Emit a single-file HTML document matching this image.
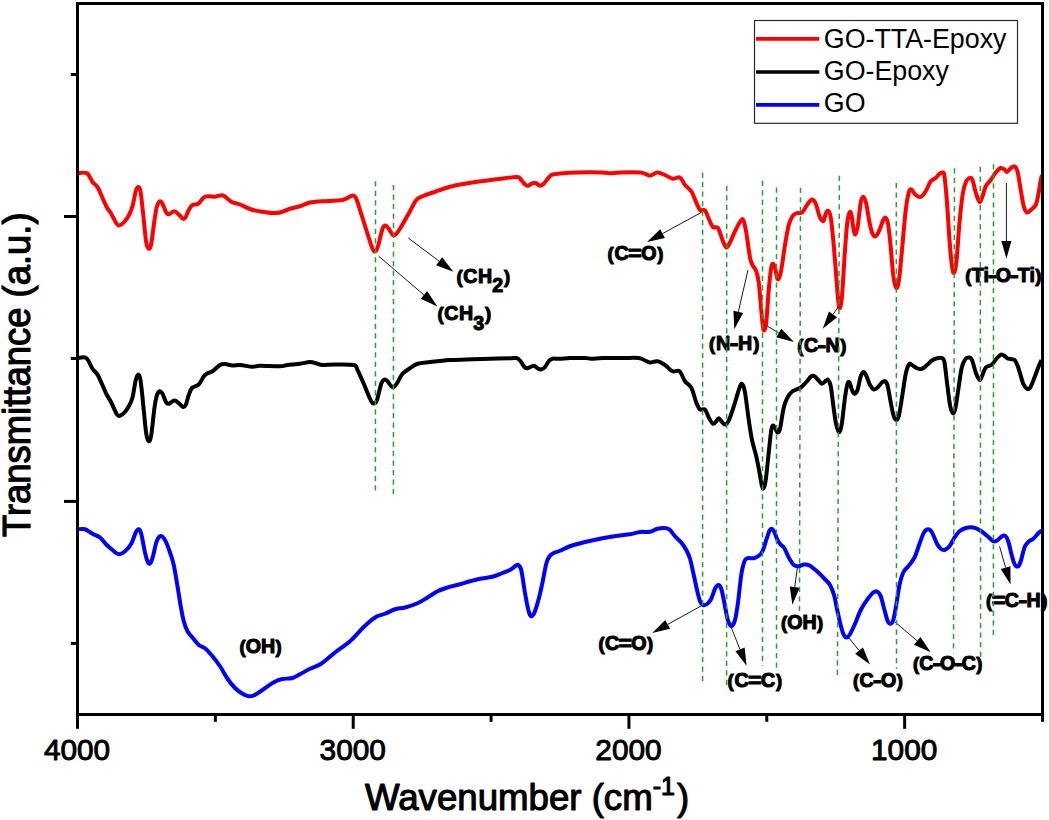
<!DOCTYPE html><html><head><meta charset="utf-8"><title>FTIR</title>
<style>
html,body{margin:0;padding:0;background:#fff;}
body{width:1049px;height:820px;overflow:hidden;}
svg{display:block;}
text{font-family:"Liberation Sans",sans-serif;fill:#000;}
.lab{font-weight:bold;font-size:19.6px;stroke:#000;stroke-width:1.1px;stroke-linejoin:round;}
.lab .sub{font-size:19.6px;}
.tick{font-size:29.2px;stroke:#000;stroke-width:0.95px;stroke-linejoin:round;}
.axis{font-size:36.6px;stroke:#000;stroke-width:1.1px;stroke-linejoin:round;}
.leg{font-size:26.8px;}
</style></head><body>
<svg width="1049" height="820" viewBox="0 0 1049 820">
<rect x="0" y="0" width="1049" height="820" fill="#fff"/>
<path d="M78.00 529.25 C79.17 529.25 82.58 528.50 85.00 529.25 C87.42 530.00 90.00 532.38 92.50 533.75 C95.00 535.12 97.71 535.71 100.00 537.50 C102.29 539.29 104.17 542.42 106.25 544.50 C108.33 546.58 110.42 548.38 112.50 550.00 C114.58 551.62 116.67 554.04 118.75 554.25 C120.83 554.46 122.92 553.00 125.00 551.25 C127.08 549.50 129.46 546.88 131.25 543.75 C133.04 540.62 134.50 534.92 135.75 532.50 C137.00 530.08 137.83 529.04 138.75 529.25 C139.67 529.46 140.21 529.88 141.25 533.75 C142.29 537.62 143.88 547.71 145.00 552.50 C146.12 557.29 147.08 560.75 148.00 562.50 C148.92 564.25 149.67 564.04 150.50 563.00 C151.33 561.96 152.04 559.67 153.00 556.25 C153.96 552.83 155.21 545.75 156.25 542.50 C157.29 539.25 158.21 537.71 159.25 536.75 C160.29 535.79 161.33 535.79 162.50 536.75 C163.67 537.71 165.00 539.88 166.25 542.50 C167.50 545.12 168.75 548.75 170.00 552.50 C171.25 556.25 172.50 559.38 173.75 565.00 C175.00 570.62 176.33 579.38 177.50 586.25 C178.67 593.12 179.71 600.42 180.75 606.25 C181.79 612.08 182.62 617.08 183.75 621.25 C184.88 625.42 186.04 628.54 187.50 631.25 C188.96 633.96 190.62 635.21 192.50 637.50 C194.38 639.79 196.67 643.21 198.75 645.00 C200.83 646.79 202.71 646.38 205.00 648.25 C207.29 650.12 210.00 653.25 212.50 656.25 C215.00 659.25 217.50 662.50 220.00 666.25 C222.50 670.00 225.00 675.12 227.50 678.75 C230.00 682.38 232.50 685.50 235.00 688.00 C237.50 690.50 240.21 692.38 242.50 693.75 C244.79 695.12 246.88 695.96 248.75 696.25 C250.62 696.54 251.46 696.54 253.75 695.50 C256.04 694.46 259.38 692.08 262.50 690.00 C265.62 687.92 269.38 684.79 272.50 683.00 C275.62 681.21 277.92 680.08 281.25 679.25 C284.58 678.42 289.38 678.83 292.50 678.00 C295.62 677.17 297.08 675.79 300.00 674.25 C302.92 672.71 306.46 670.50 310.00 668.75 C313.54 667.00 317.08 666.46 321.25 663.75 C325.42 661.04 330.21 656.25 335.00 652.50 C339.79 648.75 345.21 645.50 350.00 641.25 C354.79 637.00 359.58 630.96 363.75 627.00 C367.92 623.04 371.46 619.71 375.00 617.50 C378.54 615.29 381.67 615.12 385.00 613.75 C388.33 612.38 391.67 610.29 395.00 609.25 C398.33 608.21 401.25 608.50 405.00 607.50 C408.75 606.50 413.75 604.92 417.50 603.25 C421.25 601.58 424.17 599.50 427.50 597.50 C430.83 595.50 434.17 592.92 437.50 591.25 C440.83 589.58 443.75 588.67 447.50 587.50 C451.25 586.33 456.25 585.29 460.00 584.25 C463.75 583.21 466.67 582.17 470.00 581.25 C473.33 580.33 476.25 579.50 480.00 578.75 C483.75 578.00 488.75 577.71 492.50 576.75 C496.25 575.79 499.58 574.12 502.50 573.00 C505.42 571.88 507.92 571.12 510.00 570.00 C512.08 568.88 513.62 567.08 515.00 566.25 C516.38 565.42 517.21 564.38 518.25 565.00 C519.29 565.62 520.21 565.83 521.25 570.00 C522.29 574.17 523.46 583.96 524.50 590.00 C525.54 596.04 526.58 602.08 527.50 606.25 C528.42 610.42 529.17 613.42 530.00 615.00 C530.83 616.58 531.67 616.38 532.50 615.75 C533.33 615.12 533.96 614.08 535.00 611.25 C536.04 608.42 537.50 603.54 538.75 598.75 C540.00 593.96 541.25 588.33 542.50 582.50 C543.75 576.67 545.08 568.12 546.25 563.75 C547.42 559.38 548.25 558.04 549.50 556.25 C550.75 554.46 552.00 553.92 553.75 553.00 C555.50 552.08 557.29 551.88 560.00 550.75 C562.71 549.62 565.83 547.71 570.00 546.25 C574.17 544.79 579.58 543.33 585.00 542.00 C590.42 540.67 597.08 539.29 602.50 538.25 C607.92 537.21 612.92 536.42 617.50 535.75 C622.08 535.08 626.25 534.88 630.00 534.25 C633.75 533.62 636.67 532.42 640.00 532.00 C643.33 531.58 647.08 532.29 650.00 531.75 C652.92 531.21 654.79 529.33 657.50 528.75 C660.21 528.17 664.17 528.04 666.25 528.25 C668.33 528.46 668.54 528.67 670.00 530.00 C671.46 531.33 673.12 534.17 675.00 536.25 C676.88 538.33 679.38 540.21 681.25 542.50 C683.12 544.79 684.79 547.29 686.25 550.00 C687.71 552.71 688.75 554.58 690.00 558.75 C691.25 562.92 692.58 569.79 693.75 575.00 C694.92 580.21 695.96 585.62 697.00 590.00 C698.04 594.38 699.00 598.75 700.00 601.25 C701.00 603.75 701.75 604.58 703.00 605.00 C704.25 605.42 706.12 604.79 707.50 603.75 C708.88 602.71 710.00 601.25 711.25 598.75 C712.50 596.25 713.83 591.04 715.00 588.75 C716.17 586.46 717.21 585.00 718.25 585.00 C719.29 585.00 720.25 585.83 721.25 588.75 C722.25 591.67 723.21 597.50 724.25 602.50 C725.29 607.50 726.54 615.00 727.50 618.75 C728.46 622.50 729.17 623.88 730.00 625.00 C730.83 626.12 731.67 626.33 732.50 625.50 C733.33 624.67 734.08 623.83 735.00 620.00 C735.92 616.17 736.96 610.00 738.00 602.50 C739.04 595.00 740.17 581.88 741.25 575.00 C742.33 568.12 743.46 564.04 744.50 561.25 C745.54 558.46 745.96 558.75 747.50 558.25 C749.04 557.75 751.88 558.67 753.75 558.25 C755.62 557.83 757.29 556.92 758.75 555.75 C760.21 554.58 761.25 553.88 762.50 551.25 C763.75 548.62 765.08 543.42 766.25 540.00 C767.42 536.58 768.58 532.62 769.50 530.75 C770.42 528.88 770.96 528.58 771.75 528.75 C772.54 528.92 773.29 529.88 774.25 531.75 C775.21 533.62 776.46 537.88 777.50 540.00 C778.54 542.12 779.38 543.17 780.50 544.50 C781.62 545.83 782.88 545.83 784.25 548.00 C785.62 550.17 787.17 554.67 788.75 557.50 C790.33 560.33 792.08 563.54 793.75 565.00 C795.42 566.46 797.08 566.33 798.75 566.25 C800.42 566.17 801.96 564.62 803.75 564.50 C805.54 564.38 807.29 564.38 809.50 565.50 C811.71 566.62 814.50 569.04 817.00 571.25 C819.50 573.46 822.33 576.46 824.50 578.75 C826.67 581.04 828.42 582.29 830.00 585.00 C831.58 587.71 832.83 591.04 834.00 595.00 C835.17 598.96 836.00 604.17 837.00 608.75 C838.00 613.33 838.96 618.33 840.00 622.50 C841.04 626.67 842.21 631.25 843.25 633.75 C844.29 636.25 845.21 637.29 846.25 637.50 C847.29 637.71 848.12 637.08 849.50 635.00 C850.88 632.92 852.62 629.17 854.50 625.00 C856.38 620.83 858.67 614.17 860.75 610.00 C862.83 605.83 864.92 602.92 867.00 600.00 C869.08 597.08 871.50 593.88 873.25 592.50 C875.00 591.12 876.25 591.12 877.50 591.75 C878.75 592.38 879.58 593.21 880.75 596.25 C881.92 599.29 883.33 605.83 884.50 610.00 C885.67 614.17 886.71 618.96 887.75 621.25 C888.79 623.54 889.83 623.96 890.75 623.75 C891.67 623.54 892.33 623.12 893.25 620.00 C894.17 616.88 895.21 610.83 896.25 605.00 C897.29 599.17 898.33 590.42 899.50 585.00 C900.67 579.58 901.79 575.62 903.25 572.50 C904.71 569.38 906.38 568.75 908.25 566.25 C910.12 563.75 912.62 561.25 914.50 557.50 C916.38 553.75 917.92 547.92 919.50 543.75 C921.08 539.58 922.54 534.92 924.00 532.50 C925.46 530.08 926.92 529.25 928.25 529.25 C929.58 529.25 930.54 530.08 932.00 532.50 C933.46 534.92 935.54 541.04 937.00 543.75 C938.46 546.46 939.50 547.71 940.75 548.75 C942.00 549.79 943.04 550.42 944.50 550.00 C945.96 549.58 947.83 548.33 949.50 546.25 C951.17 544.17 952.83 540.00 954.50 537.50 C956.17 535.00 957.62 532.83 959.50 531.25 C961.38 529.67 963.46 528.62 965.75 528.00 C968.04 527.38 970.96 527.17 973.25 527.50 C975.54 527.83 977.21 528.62 979.50 530.00 C981.79 531.38 984.71 533.88 987.00 535.75 C989.29 537.62 991.58 540.46 993.25 541.25 C994.92 542.04 995.54 541.33 997.00 540.50 C998.46 539.67 1000.62 537.04 1002.00 536.25 C1003.38 535.46 1004.21 534.92 1005.25 535.75 C1006.29 536.58 1007.12 537.83 1008.25 541.25 C1009.38 544.67 1010.88 552.29 1012.00 556.25 C1013.12 560.21 1013.96 563.33 1015.00 565.00 C1016.04 566.67 1017.29 566.88 1018.25 566.25 C1019.21 565.62 1019.71 564.38 1020.75 561.25 C1021.79 558.12 1023.25 550.71 1024.50 547.50 C1025.75 544.29 1026.79 543.46 1028.25 542.00 C1029.71 540.54 1031.58 540.21 1033.25 538.75 C1034.92 537.29 1036.88 534.62 1038.25 533.25 C1039.62 531.88 1040.96 530.96 1041.50 530.50" fill="none" stroke="#0000ff" stroke-width="4.0" stroke-linejoin="round" stroke-linecap="butt"/>
<path d="M78.00 358.00 C79.38 358.00 83.83 356.21 86.25 358.00 C88.67 359.79 90.54 365.83 92.50 368.75 C94.46 371.67 95.71 371.33 98.00 375.50 C100.29 379.67 104.04 389.25 106.25 393.75 C108.46 398.25 109.46 399.04 111.25 402.50 C113.04 405.96 115.54 412.29 117.00 414.50 C118.46 416.71 118.75 416.08 120.00 415.75 C121.25 415.42 123.04 414.08 124.50 412.50 C125.96 410.92 127.42 408.75 128.75 406.25 C130.08 403.75 131.33 401.88 132.50 397.50 C133.67 393.12 134.79 383.83 135.75 380.00 C136.71 376.17 137.46 374.50 138.25 374.50 C139.04 374.50 139.71 375.33 140.50 380.00 C141.29 384.67 142.04 393.54 143.00 402.50 C143.96 411.46 145.29 427.29 146.25 433.75 C147.21 440.21 147.92 441.04 148.75 441.25 C149.58 441.46 150.29 440.62 151.25 435.00 C152.21 429.38 153.54 414.17 154.50 407.50 C155.46 400.83 156.08 397.71 157.00 395.00 C157.92 392.29 159.08 391.46 160.00 391.25 C160.92 391.04 161.46 391.88 162.50 393.75 C163.54 395.62 165.21 400.83 166.25 402.50 C167.29 404.17 167.38 404.08 168.75 403.75 C170.12 403.42 172.83 400.58 174.50 400.50 C176.17 400.42 177.33 402.17 178.75 403.25 C180.17 404.33 181.83 406.71 183.00 407.00 C184.17 407.29 184.79 407.00 185.75 405.00 C186.71 403.00 187.71 397.83 188.75 395.00 C189.79 392.17 190.33 389.75 192.00 388.00 C193.67 386.25 196.58 386.67 198.75 384.50 C200.92 382.33 202.71 377.21 205.00 375.00 C207.29 372.79 210.00 372.92 212.50 371.25 C215.00 369.58 217.92 366.21 220.00 365.00 C222.08 363.79 222.92 363.92 225.00 364.00 C227.08 364.08 230.00 365.33 232.50 365.50 C235.00 365.67 236.67 364.79 240.00 365.00 C243.33 365.21 249.17 366.62 252.50 366.75 C255.83 366.88 255.42 365.83 260.00 365.75 C264.58 365.67 275.42 366.38 280.00 366.25 C284.58 366.12 284.17 365.42 287.50 365.00 C290.83 364.58 296.25 364.25 300.00 363.75 C303.75 363.25 307.08 362.00 310.00 362.00 C312.92 362.00 315.42 363.25 317.50 363.75 C319.58 364.25 319.58 364.88 322.50 365.00 C325.42 365.12 329.79 364.50 335.00 364.50 C340.21 364.50 350.00 364.08 353.75 365.00 C357.50 365.92 355.83 366.88 357.50 370.00 C359.17 373.12 361.46 378.54 363.75 383.75 C366.04 388.96 369.46 398.00 371.25 401.25 C373.04 404.50 373.54 403.46 374.50 403.25 C375.46 403.04 375.88 403.25 377.00 400.00 C378.12 396.75 380.00 387.17 381.25 383.75 C382.50 380.33 383.46 379.92 384.50 379.50 C385.54 379.08 386.38 380.12 387.50 381.25 C388.62 382.38 390.21 385.29 391.25 386.25 C392.29 387.21 392.71 387.62 393.75 387.00 C394.79 386.38 396.04 384.71 397.50 382.50 C398.96 380.29 400.42 376.12 402.50 373.75 C404.58 371.38 407.50 369.92 410.00 368.25 C412.50 366.58 414.17 364.79 417.50 363.75 C420.83 362.71 424.58 362.62 430.00 362.00 C435.42 361.38 442.92 360.46 450.00 360.00 C457.08 359.54 465.83 359.46 472.50 359.25 C479.17 359.04 483.75 358.92 490.00 358.75 C496.25 358.58 505.62 358.38 510.00 358.25 C514.38 358.12 514.58 357.62 516.25 358.00 C517.92 358.38 518.62 359.00 520.00 360.50 C521.38 362.00 523.25 365.71 524.50 367.00 C525.75 368.29 525.96 368.46 527.50 368.25 C529.04 368.04 532.08 365.75 533.75 365.75 C535.42 365.75 536.25 367.62 537.50 368.25 C538.75 368.88 540.00 369.71 541.25 369.50 C542.50 369.29 543.75 368.38 545.00 367.00 C546.25 365.62 547.50 362.62 548.75 361.25 C550.00 359.88 550.62 359.17 552.50 358.75 C554.38 358.33 557.08 358.88 560.00 358.75 C562.92 358.62 565.83 358.12 570.00 358.00 C574.17 357.88 581.46 357.88 585.00 358.00 C588.54 358.12 588.33 358.75 591.25 358.75 C594.17 358.75 597.29 358.12 602.50 358.00 C607.71 357.88 616.46 358.00 622.50 358.00 C628.54 358.00 635.00 357.58 638.75 358.00 C642.50 358.42 643.12 359.75 645.00 360.50 C646.88 361.25 647.92 362.38 650.00 362.50 C652.08 362.62 655.00 360.83 657.50 361.25 C660.00 361.67 662.50 363.33 665.00 365.00 C667.50 366.67 670.08 370.21 672.50 371.25 C674.92 372.29 677.42 369.58 679.50 371.25 C681.58 372.92 683.04 378.54 685.00 381.25 C686.96 383.96 689.38 383.96 691.25 387.50 C693.12 391.04 694.79 398.83 696.25 402.50 C697.71 406.17 698.54 408.33 700.00 409.50 C701.46 410.67 703.54 408.17 705.00 409.50 C706.46 410.83 707.42 415.12 708.75 417.50 C710.08 419.88 711.75 423.12 713.00 423.75 C714.25 424.38 715.29 422.17 716.25 421.25 C717.21 420.33 717.71 418.04 718.75 418.25 C719.79 418.46 721.33 421.46 722.50 422.50 C723.67 423.54 724.58 425.12 725.75 424.50 C726.92 423.88 727.96 422.42 729.50 418.75 C731.04 415.08 733.25 407.92 735.00 402.50 C736.75 397.08 738.75 389.25 740.00 386.25 C741.25 383.25 741.67 383.46 742.50 384.50 C743.33 385.54 743.96 386.58 745.00 392.50 C746.04 398.42 747.58 412.08 748.75 420.00 C749.92 427.92 750.75 433.96 752.00 440.00 C753.25 446.04 755.00 450.83 756.25 456.25 C757.50 461.67 758.54 467.50 759.50 472.50 C760.46 477.50 761.29 483.67 762.00 486.25 C762.71 488.83 763.12 489.04 763.75 488.00 C764.38 486.96 764.92 485.92 765.75 480.00 C766.58 474.08 767.83 460.83 768.75 452.50 C769.67 444.17 770.50 434.50 771.25 430.00 C772.00 425.50 772.54 425.71 773.25 425.50 C773.96 425.29 774.79 427.58 775.50 428.75 C776.21 429.92 776.75 432.50 777.50 432.50 C778.25 432.50 778.96 432.92 780.00 428.75 C781.04 424.58 782.50 412.71 783.75 407.50 C785.00 402.29 786.04 400.21 787.50 397.50 C788.96 394.79 790.29 392.92 792.50 391.25 C794.71 389.58 798.33 389.17 800.75 387.50 C803.17 385.83 805.25 383.12 807.00 381.25 C808.75 379.38 810.00 377.08 811.25 376.25 C812.50 375.42 813.33 375.62 814.50 376.25 C815.67 376.88 817.00 378.75 818.25 380.00 C819.50 381.25 820.75 383.62 822.00 383.75 C823.25 383.88 824.71 381.38 825.75 380.75 C826.79 380.12 827.42 379.08 828.25 380.00 C829.08 380.92 829.92 382.08 830.75 386.25 C831.58 390.42 832.42 398.96 833.25 405.00 C834.08 411.04 834.92 418.12 835.75 422.50 C836.58 426.88 837.54 429.79 838.25 431.25 C838.96 432.71 839.38 432.71 840.00 431.25 C840.62 429.79 841.17 428.12 842.00 422.50 C842.83 416.88 844.08 403.96 845.00 397.50 C845.92 391.04 846.75 386.25 847.50 383.75 C848.25 381.25 848.75 381.46 849.50 382.50 C850.25 383.54 851.17 388.12 852.00 390.00 C852.83 391.88 853.58 393.75 854.50 393.75 C855.42 393.75 856.46 392.92 857.50 390.00 C858.54 387.08 859.71 379.25 860.75 376.25 C861.79 373.25 862.79 372.00 863.75 372.00 C864.71 372.00 865.46 374.08 866.50 376.25 C867.54 378.42 868.75 382.79 870.00 385.00 C871.25 387.21 872.75 389.08 874.00 389.50 C875.25 389.92 876.17 388.67 877.50 387.50 C878.83 386.33 880.71 383.54 882.00 382.50 C883.29 381.46 884.29 380.62 885.25 381.25 C886.21 381.88 886.83 382.71 887.75 386.25 C888.67 389.79 889.75 397.50 890.75 402.50 C891.75 407.50 892.83 413.33 893.75 416.25 C894.67 419.17 895.42 420.00 896.25 420.00 C897.08 420.00 897.79 420.00 898.75 416.25 C899.71 412.50 900.83 404.58 902.00 397.50 C903.17 390.42 904.58 379.25 905.75 373.75 C906.92 368.25 907.96 365.96 909.00 364.50 C910.04 363.04 910.67 364.38 912.00 365.00 C913.33 365.62 915.33 367.62 917.00 368.25 C918.67 368.88 920.33 369.29 922.00 368.75 C923.67 368.21 925.33 366.38 927.00 365.00 C928.67 363.62 930.33 361.62 932.00 360.50 C933.67 359.38 935.33 358.67 937.00 358.25 C938.67 357.83 940.75 357.29 942.00 358.00 C943.25 358.71 943.67 358.42 944.50 362.50 C945.33 366.58 946.08 375.42 947.00 382.50 C947.92 389.58 949.04 399.92 950.00 405.00 C950.96 410.08 951.88 412.38 952.75 413.00 C953.62 413.62 954.33 412.58 955.25 408.75 C956.17 404.92 957.21 396.67 958.25 390.00 C959.29 383.33 960.38 373.83 961.50 368.75 C962.62 363.67 963.75 361.38 965.00 359.50 C966.25 357.62 967.83 357.42 969.00 357.50 C970.17 357.58 970.88 357.50 972.00 360.00 C973.12 362.50 974.50 369.17 975.75 372.50 C977.00 375.83 978.38 379.58 979.50 380.00 C980.62 380.42 981.46 377.08 982.50 375.00 C983.54 372.92 984.17 369.25 985.75 367.50 C987.33 365.75 990.12 366.08 992.00 364.50 C993.88 362.92 995.42 359.67 997.00 358.00 C998.58 356.33 1000.17 354.79 1001.50 354.50 C1002.83 354.21 1003.88 355.54 1005.00 356.25 C1006.12 356.96 1006.67 358.12 1008.25 358.75 C1009.83 359.38 1012.83 358.54 1014.50 360.00 C1016.17 361.46 1016.79 363.54 1018.25 367.50 C1019.71 371.46 1021.79 380.21 1023.25 383.75 C1024.71 387.29 1025.88 388.04 1027.00 388.75 C1028.12 389.46 1028.75 389.88 1030.00 388.00 C1031.25 386.12 1033.12 380.92 1034.50 377.50 C1035.88 374.08 1037.08 370.42 1038.25 367.50 C1039.42 364.58 1040.96 361.25 1041.50 360.00" fill="none" stroke="#000000" stroke-width="4.0" stroke-linejoin="round" stroke-linecap="butt"/>
<path d="M78.00 173.25 C79.50 173.25 84.58 171.79 87.00 173.25 C89.42 174.71 90.67 179.54 92.50 182.00 C94.33 184.46 95.71 183.96 98.00 188.00 C100.29 192.04 104.04 201.96 106.25 206.25 C108.46 210.54 109.58 210.92 111.25 213.75 C112.92 216.58 114.92 221.29 116.25 223.25 C117.58 225.21 118.00 225.62 119.25 225.50 C120.50 225.38 122.17 224.17 123.75 222.50 C125.33 220.83 127.29 218.21 128.75 215.50 C130.21 212.79 131.33 210.29 132.50 206.25 C133.67 202.21 134.79 194.46 135.75 191.25 C136.71 188.04 137.46 187.00 138.25 187.00 C139.04 187.00 139.71 187.00 140.50 191.25 C141.29 195.50 142.04 203.96 143.00 212.50 C143.96 221.04 145.29 236.46 146.25 242.50 C147.21 248.54 147.92 248.54 148.75 248.75 C149.58 248.96 150.29 248.54 151.25 243.75 C152.21 238.96 153.54 226.25 154.50 220.00 C155.46 213.75 156.08 209.38 157.00 206.25 C157.92 203.12 159.08 201.67 160.00 201.25 C160.92 200.83 161.46 201.88 162.50 203.75 C163.54 205.62 165.21 210.75 166.25 212.50 C167.29 214.25 167.38 214.46 168.75 214.25 C170.12 214.04 172.83 211.21 174.50 211.25 C176.17 211.29 177.33 213.25 178.75 214.50 C180.17 215.75 181.88 218.25 183.00 218.75 C184.12 219.25 184.54 218.96 185.50 217.50 C186.46 216.04 187.58 212.08 188.75 210.00 C189.92 207.92 190.92 206.04 192.50 205.00 C194.08 203.96 196.17 205.12 198.25 203.75 C200.33 202.38 202.21 197.92 205.00 196.75 C207.79 195.58 212.50 196.96 215.00 196.75 C217.50 196.54 218.46 195.62 220.00 195.50 C221.54 195.38 222.38 194.96 224.25 196.00 C226.12 197.04 228.62 200.33 231.25 201.75 C233.88 203.17 236.67 203.21 240.00 204.50 C243.33 205.79 247.50 208.29 251.25 209.50 C255.00 210.71 258.96 211.17 262.50 211.75 C266.04 212.33 269.58 212.88 272.50 213.00 C275.42 213.12 277.08 213.21 280.00 212.50 C282.92 211.79 286.67 209.79 290.00 208.75 C293.33 207.71 296.67 207.29 300.00 206.25 C303.33 205.21 306.25 203.33 310.00 202.50 C313.75 201.67 317.08 201.67 322.50 201.25 C327.92 200.83 337.50 200.96 342.50 200.00 C347.50 199.04 350.21 195.71 352.50 195.50 C354.79 195.29 355.00 196.33 356.25 198.75 C357.50 201.17 358.12 204.17 360.00 210.00 C361.88 215.83 365.42 227.29 367.50 233.75 C369.58 240.21 371.17 245.83 372.50 248.75 C373.83 251.67 374.58 251.67 375.50 251.25 C376.42 250.83 376.83 250.00 378.00 246.25 C379.17 242.50 381.25 232.21 382.50 228.75 C383.75 225.29 384.46 225.50 385.50 225.50 C386.54 225.50 387.58 227.25 388.75 228.75 C389.92 230.25 391.46 233.46 392.50 234.50 C393.54 235.54 393.75 235.96 395.00 235.00 C396.25 234.04 397.50 232.71 400.00 228.75 C402.50 224.79 407.29 216.04 410.00 211.25 C412.71 206.46 414.17 202.50 416.25 200.00 C418.33 197.50 419.38 197.62 422.50 196.25 C425.62 194.88 430.42 193.33 435.00 191.75 C439.58 190.17 445.83 187.96 450.00 186.75 C454.17 185.54 454.17 185.50 460.00 184.50 C465.83 183.50 477.50 181.79 485.00 180.75 C492.50 179.71 499.58 178.88 505.00 178.25 C510.42 177.62 514.79 176.71 517.50 177.00 C520.21 177.29 520.00 178.75 521.25 180.00 C522.50 181.25 523.88 183.54 525.00 184.50 C526.12 185.46 526.75 185.96 528.00 185.75 C529.25 185.54 531.12 183.67 532.50 183.25 C533.88 182.83 535.00 182.83 536.25 183.25 C537.50 183.67 538.75 185.67 540.00 185.75 C541.25 185.83 542.29 185.12 543.75 183.75 C545.21 182.38 547.29 179.04 548.75 177.50 C550.21 175.96 550.62 175.17 552.50 174.50 C554.38 173.83 555.83 173.83 560.00 173.50 C564.17 173.17 570.42 172.67 577.50 172.50 C584.58 172.33 597.08 172.38 602.50 172.50 C607.92 172.62 607.08 173.25 610.00 173.25 C612.92 173.25 615.00 172.62 620.00 172.50 C625.00 172.38 635.62 172.21 640.00 172.50 C644.38 172.79 644.50 173.75 646.25 174.25 C648.00 174.75 648.62 175.79 650.50 175.50 C652.38 175.21 655.08 172.58 657.50 172.50 C659.92 172.42 662.50 173.96 665.00 175.00 C667.50 176.04 670.00 178.33 672.50 178.75 C675.00 179.17 677.92 176.46 680.00 177.50 C682.08 178.54 683.12 182.71 685.00 185.00 C686.88 187.29 689.38 188.33 691.25 191.25 C693.12 194.17 694.79 199.38 696.25 202.50 C697.71 205.62 698.54 208.67 700.00 210.00 C701.46 211.33 703.54 209.04 705.00 210.50 C706.46 211.96 707.42 216.00 708.75 218.75 C710.08 221.50 711.46 225.46 713.00 227.00 C714.54 228.54 716.42 225.83 718.00 228.00 C719.58 230.17 721.12 236.75 722.50 240.00 C723.88 243.25 725.00 247.08 726.25 247.50 C727.50 247.92 728.54 245.21 730.00 242.50 C731.46 239.79 733.12 235.00 735.00 231.25 C736.88 227.50 739.79 221.67 741.25 220.00 C742.71 218.33 742.92 219.17 743.75 221.25 C744.58 223.33 745.21 226.46 746.25 232.50 C747.29 238.54 748.96 252.08 750.00 257.50 C751.04 262.92 751.46 262.71 752.50 265.00 C753.54 267.29 755.21 268.33 756.25 271.25 C757.29 274.17 757.92 276.04 758.75 282.50 C759.58 288.96 760.54 302.50 761.25 310.00 C761.96 317.50 762.46 324.17 763.00 327.50 C763.54 330.83 763.96 330.83 764.50 330.00 C765.04 329.17 765.54 329.17 766.25 322.50 C766.96 315.83 767.92 299.17 768.75 290.00 C769.58 280.83 770.54 271.88 771.25 267.50 C771.96 263.12 772.38 263.75 773.00 263.75 C773.62 263.75 774.33 265.21 775.00 267.50 C775.67 269.79 776.38 275.62 777.00 277.50 C777.62 279.38 778.04 280.00 778.75 278.75 C779.46 277.50 780.21 275.62 781.25 270.00 C782.29 264.38 783.75 252.50 785.00 245.00 C786.25 237.50 787.50 229.79 788.75 225.00 C790.00 220.21 791.25 218.21 792.50 216.25 C793.75 214.29 794.67 213.88 796.25 213.25 C797.83 212.62 800.21 213.88 802.00 212.50 C803.79 211.12 805.33 207.17 807.00 205.00 C808.67 202.83 810.54 199.71 812.00 199.50 C813.46 199.29 814.50 200.96 815.75 203.75 C817.00 206.54 818.25 213.33 819.50 216.25 C820.75 219.17 822.21 221.67 823.25 221.25 C824.29 220.83 824.92 215.50 825.75 213.75 C826.58 212.00 827.42 210.12 828.25 210.75 C829.08 211.38 829.92 212.62 830.75 217.50 C831.58 222.38 832.42 231.25 833.25 240.00 C834.08 248.75 834.92 259.83 835.75 270.00 C836.58 280.17 837.54 294.67 838.25 301.00 C838.96 307.33 839.38 308.83 840.00 308.00 C840.62 307.17 841.25 304.42 842.00 296.00 C842.75 287.58 843.67 269.33 844.50 257.50 C845.33 245.67 846.17 232.50 847.00 225.00 C847.83 217.50 848.75 214.17 849.50 212.50 C850.25 210.83 850.88 212.50 851.50 215.00 C852.12 217.50 852.62 224.25 853.25 227.50 C853.88 230.75 854.50 234.71 855.25 234.50 C856.00 234.29 856.83 231.58 857.75 226.25 C858.67 220.92 859.75 207.38 860.75 202.50 C861.75 197.62 862.79 196.58 863.75 197.00 C864.71 197.42 865.54 200.75 866.50 205.00 C867.46 209.25 868.50 217.71 869.50 222.50 C870.50 227.29 871.46 231.46 872.50 233.75 C873.54 236.04 874.58 236.88 875.75 236.25 C876.92 235.62 878.25 232.71 879.50 230.00 C880.75 227.29 882.21 222.00 883.25 220.00 C884.29 218.00 884.92 217.17 885.75 218.00 C886.58 218.83 887.42 220.08 888.25 225.00 C889.08 229.92 889.92 239.17 890.75 247.50 C891.58 255.83 892.33 268.25 893.25 275.00 C894.17 281.75 895.29 287.17 896.25 288.00 C897.21 288.83 898.04 286.33 899.00 280.00 C899.96 273.67 900.88 261.67 902.00 250.00 C903.12 238.33 904.62 219.58 905.75 210.00 C906.88 200.42 907.83 195.92 908.75 192.50 C909.67 189.08 910.08 189.08 911.25 189.50 C912.42 189.92 914.17 193.75 915.75 195.00 C917.33 196.25 919.08 197.62 920.75 197.00 C922.42 196.38 924.08 193.88 925.75 191.25 C927.42 188.62 929.08 183.46 930.75 181.25 C932.42 179.04 934.29 179.25 935.75 178.00 C937.21 176.75 938.38 174.67 939.50 173.75 C940.62 172.83 941.67 172.08 942.50 172.50 C943.33 172.92 943.75 171.25 944.50 176.25 C945.25 181.25 946.17 191.88 947.00 202.50 C947.83 213.12 948.67 229.42 949.50 240.00 C950.33 250.58 951.25 260.50 952.00 266.00 C952.75 271.50 953.25 273.83 954.00 273.00 C954.75 272.17 955.58 269.42 956.50 261.00 C957.42 252.58 958.46 233.71 959.50 222.50 C960.54 211.29 961.71 200.42 962.75 193.75 C963.79 187.08 964.62 185.12 965.75 182.50 C966.88 179.88 968.38 178.42 969.50 178.00 C970.62 177.58 971.46 177.58 972.50 180.00 C973.54 182.42 974.58 188.83 975.75 192.50 C976.92 196.17 978.38 201.38 979.50 202.00 C980.62 202.62 981.46 198.88 982.50 196.25 C983.54 193.62 984.38 188.96 985.75 186.25 C987.12 183.54 989.08 182.29 990.75 180.00 C992.42 177.71 994.08 174.50 995.75 172.50 C997.42 170.50 999.29 168.50 1000.75 168.00 C1002.21 167.50 1003.46 168.83 1004.50 169.50 C1005.54 170.17 1005.96 172.21 1007.00 172.00 C1008.04 171.79 1009.50 169.21 1010.75 168.25 C1012.00 167.29 1013.38 165.75 1014.50 166.25 C1015.62 166.75 1016.46 167.29 1017.50 171.25 C1018.54 175.21 1019.71 184.17 1020.75 190.00 C1021.79 195.83 1022.71 202.50 1023.75 206.25 C1024.79 210.00 1025.83 211.88 1027.00 212.50 C1028.17 213.12 1029.29 211.25 1030.75 210.00 C1032.21 208.75 1034.50 207.50 1035.75 205.00 C1037.00 202.50 1037.42 199.17 1038.25 195.00 C1039.08 190.83 1040.12 183.33 1040.75 180.00 C1041.38 176.67 1041.79 175.83 1042.00 175.00" fill="none" stroke="#ff0000" stroke-width="4.0" stroke-linejoin="round" stroke-linecap="butt"/>
<rect x="77.50" y="3.50" width="965.00" height="711.00" fill="none" stroke="#000" stroke-width="3"/>
<line x1="77.50" y1="714.50" x2="77.50" y2="728.80" stroke="#000" stroke-width="3"/>
<text class="tick" x="43.90" y="759.7" textLength="66.3" lengthAdjust="spacingAndGlyphs">4000</text>
<line x1="215.36" y1="714.50" x2="215.36" y2="721.80" stroke="#000" stroke-width="3"/>
<line x1="353.21" y1="714.50" x2="353.21" y2="728.80" stroke="#000" stroke-width="3"/>
<text class="tick" x="319.61" y="759.7" textLength="66.3" lengthAdjust="spacingAndGlyphs">3000</text>
<line x1="491.07" y1="714.50" x2="491.07" y2="721.80" stroke="#000" stroke-width="3"/>
<line x1="628.93" y1="714.50" x2="628.93" y2="728.80" stroke="#000" stroke-width="3"/>
<text class="tick" x="595.33" y="759.7" textLength="66.3" lengthAdjust="spacingAndGlyphs">2000</text>
<line x1="766.79" y1="714.50" x2="766.79" y2="721.80" stroke="#000" stroke-width="3"/>
<line x1="904.64" y1="714.50" x2="904.64" y2="728.80" stroke="#000" stroke-width="3"/>
<text class="tick" x="871.04" y="759.7" textLength="66.3" lengthAdjust="spacingAndGlyphs">1000</text>
<line x1="1042.50" y1="714.50" x2="1042.50" y2="721.80" stroke="#000" stroke-width="3"/>
<line x1="70.80" y1="74.50" x2="77.50" y2="74.50" stroke="#000" stroke-width="3"/>
<line x1="64.00" y1="216.50" x2="77.50" y2="216.50" stroke="#000" stroke-width="3"/>
<line x1="70.80" y1="358.50" x2="77.50" y2="358.50" stroke="#000" stroke-width="3"/>
<line x1="64.00" y1="501.40" x2="77.50" y2="501.40" stroke="#000" stroke-width="3"/>
<line x1="70.80" y1="643.40" x2="77.50" y2="643.40" stroke="#000" stroke-width="3"/>
<text class="axis" x="365.0" y="809.8" textLength="324.2" lengthAdjust="spacingAndGlyphs">Wavenumber (cm<tspan font-size="25" dy="-14.5">-1</tspan><tspan dy="14.5" dx="2">)</tspan></text>
<text class="axis" transform="translate(30.4,537.0) rotate(-90) scale(1,1.05)" textLength="324.6" lengthAdjust="spacingAndGlyphs">Transmittance (a.u.)</text>
<rect x="754.5" y="20.5" width="263" height="102.8" fill="#fff" stroke="#2a2a2a" stroke-width="1.2"/>
<line x1="756" y1="38.95" x2="819.3" y2="38.95" stroke="#ff0000" stroke-width="3.7"/>
<text class="leg" x="823.8" y="47.60">GO-TTA-Epoxy</text>
<line x1="756" y1="72.00" x2="819.3" y2="72.00" stroke="#000" stroke-width="3.7"/>
<text class="leg" x="823.8" y="80.40">GO-Epoxy</text>
<line x1="756" y1="104.85" x2="819.3" y2="104.85" stroke="#0000ff" stroke-width="3.7"/>
<text class="leg" x="823.8" y="112.30">GO</text>
<line x1="408.30" y1="238.00" x2="439.17" y2="261.21" stroke="#000" stroke-width="0.9"/><polygon points="453.32,271.84 436.17,265.20 442.18,257.21" fill="#000"/>
<line x1="378.75" y1="256.25" x2="423.93" y2="294.88" stroke="#000" stroke-width="0.9"/><polygon points="437.38,306.38 420.68,298.68 427.18,291.08" fill="#000"/>
<line x1="701.25" y1="212.50" x2="662.55" y2="233.57" stroke="#000" stroke-width="0.9"/><polygon points="647.01,242.03 660.16,229.18 664.95,237.96" fill="#000"/>
<line x1="748.00" y1="270.00" x2="738.29" y2="311.93" stroke="#000" stroke-width="0.9"/><polygon points="734.30,329.18 733.42,310.81 743.16,313.06" fill="#000"/>
<line x1="767.50" y1="326.25" x2="778.75" y2="332.93" stroke="#000" stroke-width="0.9"/><polygon points="793.97,341.96 776.20,337.23 781.30,328.63" fill="#000"/>
<line x1="838.25" y1="307.00" x2="833.01" y2="314.33" stroke="#000" stroke-width="0.9"/><polygon points="822.73,328.73 828.95,311.42 837.08,317.24" fill="#000"/>
<line x1="1006.40" y1="183.00" x2="1006.40" y2="241.00" stroke="#000" stroke-width="0.9"/><polygon points="1006.40,258.70 1001.40,241.00 1011.40,241.00" fill="#000"/>
<line x1="702.00" y1="605.50" x2="667.71" y2="624.39" stroke="#000" stroke-width="0.9"/><polygon points="652.21,632.93 665.30,620.01 670.13,628.77" fill="#000"/>
<line x1="731.25" y1="627.50" x2="740.01" y2="649.40" stroke="#000" stroke-width="0.9"/><polygon points="746.58,665.84 735.37,651.26 744.65,647.54" fill="#000"/>
<line x1="797.30" y1="568.00" x2="794.73" y2="587.15" stroke="#000" stroke-width="0.9"/><polygon points="792.38,604.69 789.78,586.48 799.69,587.81" fill="#000"/>
<line x1="849.00" y1="638.00" x2="859.04" y2="650.61" stroke="#000" stroke-width="0.9"/><polygon points="870.06,664.45 855.12,653.72 862.95,647.49" fill="#000"/>
<line x1="895.00" y1="622.00" x2="917.20" y2="640.87" stroke="#000" stroke-width="0.9"/><polygon points="930.69,652.33 913.96,644.68 920.44,637.06" fill="#000"/>
<line x1="999.50" y1="546.25" x2="1005.62" y2="567.60" stroke="#000" stroke-width="0.9"/><polygon points="1010.50,584.62 1000.81,568.98 1010.43,566.22" fill="#000"/>
<text class="lab" x="456.50" y="282.70" textLength="53.60" lengthAdjust="spacing"><tspan font-size="18.5">(</tspan><tspan dx="0.20">C</tspan>H<tspan class='sub' dy='9.2' dx='-0.3'>2</tspan><tspan dy='-9.2' dx='-0.3'><tspan font-size="18.5" dx="0.20">)</tspan></tspan></text>
<text class="lab" x="437.50" y="319.60" textLength="53.60" lengthAdjust="spacing"><tspan font-size="18.5">(</tspan><tspan dx="0.20">C</tspan>H<tspan class='sub' dy='10' dx='-0.3'>3</tspan><tspan dy='-10' dx='-0.3'><tspan font-size="18.5" dx="0.20">)</tspan></tspan></text>
<text class="lab" x="607.60" y="260.00" textLength="55.70" lengthAdjust="spacing"><tspan font-size="18.5">(</tspan><tspan dx="0.20">C</tspan><tspan dx="-1.14" textLength="13.74" lengthAdjust="spacingAndGlyphs">=</tspan><tspan dx="-1.14">O</tspan><tspan font-size="18.5" dx="0.20">)</tspan></text>
<text class="lab" x="708.90" y="350.00" textLength="50.40" lengthAdjust="spacing"><tspan font-size="18.5">(</tspan><tspan dx="0.20">N</tspan><tspan dx="-1.04" textLength="8.62" lengthAdjust="spacingAndGlyphs">-</tspan><tspan dx="-1.04">H</tspan><tspan font-size="18.5" dx="0.20">)</tspan></text>
<text class="lab" x="797.30" y="352.10" textLength="49.10" lengthAdjust="spacing"><tspan font-size="18.5">(</tspan><tspan dx="0.20">C</tspan><tspan dx="-1.04" textLength="8.62" lengthAdjust="spacingAndGlyphs">-</tspan><tspan dx="-1.04">N</tspan><tspan font-size="18.5" dx="0.20">)</tspan></text>
<text class="lab" x="965.30" y="282.40" textLength="76.00" lengthAdjust="spacing"><tspan font-size="18.5">(</tspan><tspan dx="0.20">T</tspan>i<tspan dx="-1.04" textLength="8.62" lengthAdjust="spacingAndGlyphs">-</tspan><tspan dx="-1.04">O</tspan><tspan dx="-1.04" textLength="8.62" lengthAdjust="spacingAndGlyphs">-</tspan><tspan dx="-1.04">T</tspan>i<tspan font-size="18.5" dx="0.20">)</tspan></text>
<text class="lab" x="239.40" y="653.20"><tspan font-size="18.5">(</tspan><tspan dx="0.20">O</tspan>H<tspan font-size="18.5" dx="0.20">)</tspan></text>
<text class="lab" x="598.40" y="650.00" textLength="54.80" lengthAdjust="spacing"><tspan font-size="18.5">(</tspan><tspan dx="0.20">C</tspan><tspan dx="-1.14" textLength="13.74" lengthAdjust="spacingAndGlyphs">=</tspan><tspan dx="-1.14">O</tspan><tspan font-size="18.5" dx="0.20">)</tspan></text>
<text class="lab" x="727.60" y="686.50" textLength="54.50" lengthAdjust="spacing"><tspan font-size="18.5">(</tspan><tspan dx="0.20">C</tspan><tspan dx="-1.14" textLength="13.74" lengthAdjust="spacingAndGlyphs">=</tspan><tspan dx="-1.14">C</tspan><tspan font-size="18.5" dx="0.20">)</tspan></text>
<text class="lab" x="781.00" y="628.90"><tspan font-size="18.5">(</tspan><tspan dx="0.20">O</tspan>H<tspan font-size="18.5" dx="0.20">)</tspan></text>
<text class="lab" x="852.90" y="686.50" textLength="50.00" lengthAdjust="spacing"><tspan font-size="18.5">(</tspan><tspan dx="0.20">C</tspan><tspan dx="-1.04" textLength="8.62" lengthAdjust="spacingAndGlyphs">-</tspan><tspan dx="-1.04">O</tspan><tspan font-size="18.5" dx="0.20">)</tspan></text>
<text class="lab" x="913.00" y="670.10"><tspan font-size="18.5">(</tspan><tspan dx="0.20">C</tspan><tspan dx="-1.04" textLength="8.62" lengthAdjust="spacingAndGlyphs">-</tspan><tspan dx="-1.04">O</tspan><tspan dx="-1.04" textLength="8.62" lengthAdjust="spacingAndGlyphs">-</tspan><tspan dx="-1.04">C</tspan><tspan font-size="18.5" dx="0.20">)</tspan></text>
<text class="lab" x="986.00" y="606.90" textLength="61.50" lengthAdjust="spacing"><tspan font-size="18.5">(</tspan><tspan dx="-0.94" textLength="13.74" lengthAdjust="spacingAndGlyphs">=</tspan><tspan dx="-1.14">C</tspan><tspan dx="-1.04" textLength="8.62" lengthAdjust="spacingAndGlyphs">-</tspan><tspan dx="-1.04">H</tspan><tspan font-size="18.5" dx="0.20">)</tspan></text>
<line x1="375.50" y1="181.25" x2="375.40" y2="493.30" stroke="#2e9b35" stroke-width="1.5" stroke-dasharray="5.3 4.2"/>
<line x1="393.50" y1="185.00" x2="393.40" y2="497.30" stroke="#2e9b35" stroke-width="1.5" stroke-dasharray="5.3 4.2"/>
<line x1="702.60" y1="172.50" x2="702.60" y2="683.90" stroke="#2e9b35" stroke-width="1.5" stroke-dasharray="5.3 4.2"/>
<line x1="726.70" y1="185.75" x2="726.60" y2="688.90" stroke="#2e9b35" stroke-width="1.5" stroke-dasharray="5.3 4.2"/>
<line x1="762.50" y1="180.75" x2="762.50" y2="666.00" stroke="#2e9b35" stroke-width="1.5" stroke-dasharray="5.3 4.2"/>
<line x1="776.50" y1="187.50" x2="776.50" y2="670.90" stroke="#2e9b35" stroke-width="1.5" stroke-dasharray="5.3 4.2"/>
<line x1="800.50" y1="187.80" x2="799.45" y2="614.00" stroke="#2e9b35" stroke-width="1.5" stroke-dasharray="5.3 4.2"/>
<line x1="839.40" y1="175.80" x2="837.40" y2="675.70" stroke="#2e9b35" stroke-width="1.5" stroke-dasharray="5.3 4.2"/>
<line x1="896.30" y1="183.00" x2="896.50" y2="669.00" stroke="#2e9b35" stroke-width="1.5" stroke-dasharray="5.3 4.2"/>
<line x1="954.50" y1="168.25" x2="953.50" y2="653.30" stroke="#2e9b35" stroke-width="1.5" stroke-dasharray="5.3 4.2"/>
<line x1="980.30" y1="167.00" x2="980.60" y2="657.00" stroke="#2e9b35" stroke-width="1.5" stroke-dasharray="5.3 4.2"/>
<line x1="993.50" y1="164.25" x2="993.40" y2="637.80" stroke="#2e9b35" stroke-width="1.5" stroke-dasharray="5.3 4.2"/>
</svg></body></html>
